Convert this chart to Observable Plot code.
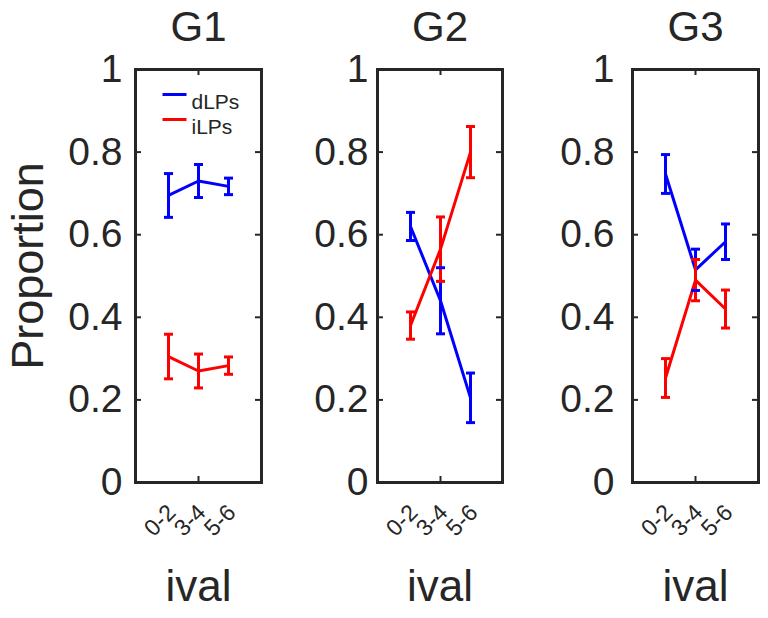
<!DOCTYPE html>
<html><head><meta charset="utf-8">
<script src="https://cdn.jsdelivr.net/npm/d3@7"></script>
<script src="https://cdn.jsdelivr.net/npm/@observablehq/plot@0.6"></script>
<style>
body{margin:0;background:#fff;}
#wrap{position:relative;width:768px;height:618px;overflow:hidden;}
.panel{position:absolute;top:0;}
</style></head><body><div id="wrap"></div>
<script>
const groups = ["G1", "G2", "G3"];
const ivals = ["0-2", "3-4", "5-6"];
const seriesNames = ["dLPs", "iLPs"];
const seriesColors = ["#0000ff", "#ff0000"];
const yTicks = [0, 0.2, 0.4, 0.6, 0.8, 1];
const yTickLabels = ["0", "0.2", "0.4", "0.6", "0.8", "1"];

// mean proportions and error (half-length of error bars)
const g1_dLPs = [0.695, 0.73, 0.717];
const g1_dLPs_err = [0.053, 0.04, 0.02];
const g1_iLPs = [0.305, 0.27, 0.283];
const g1_iLPs_err = [0.054, 0.041, 0.021];

const g2_dLPs = [0.62, 0.44, 0.205];
const g2_dLPs_err = [0.034, 0.08, 0.06];
const g2_iLPs = [0.38, 0.565, 0.8];
const g2_iLPs_err = [0.033, 0.078, 0.062];

const g3_dLPs = [0.747, 0.515, 0.583];
const g3_dLPs_err = [0.047, 0.05, 0.043];
const g3_iLPs = [0.253, 0.49, 0.42];
const g3_iLPs_err = [0.047, 0.05, 0.046];

const groupData = [
  [[g1_dLPs, g1_dLPs_err], [g1_iLPs, g1_iLPs_err]],
  [[g2_dLPs, g2_dLPs_err], [g2_iLPs, g2_iLPs_err]],
  [[g3_dLPs, g3_dLPs_err], [g3_iLPs, g3_iLPs_err]]
];

// layout (pixels)
const H = 618;
const panelLeft = [0, 265, 505];
const panelWidth = [265, 240, 263];
const marginLeft = [135, 112, 127];
const marginRight = [4, 3, 10];
const marginTop = 69, marginBottom = 136;
const yPad = [13, 9, 18];

const ink = "#262626";
const font = "'Liberation Sans', Arial, Helvetica, sans-serif";

// a horizontal-line symbol (error-bar caps and legend swatches)
const hLine = {
  draw(ctx, size) {
    const h = Math.sqrt(size / Math.PI);
    ctx.moveTo(-h, 0);
    ctx.lineTo(h, 0);
  }
};

const wrap = document.getElementById("wrap");

groups.forEach((g, gi) => {
  const rows = [];
  seriesNames.forEach((s, si) => {
    const [vals, errs] = groupData[gi][si];
    ivals.forEach((iv, k) => {
      rows.push({series: s, ival: iv, value: vals[k], lo: vals[k] - errs[k], hi: vals[k] + errs[k]});
    });
  });
  const W = panelWidth[gi];
  const plotW = W - marginLeft[gi] - marginRight[gi];
  const plotH = H - marginTop - marginBottom;

  const marks = [
    // y tick labels
    Plot.axisY({ticks: yTicks, tickFormat: (d) => yTickLabels[yTicks.indexOf(d)], tickSize: 0, tickPadding: yPad[gi], fontSize: 39, label: null, fill: ink}),
    // inner tick marks
    Plot.gridY(yTicks, {stroke: ink, strokeOpacity: 1, strokeWidth: 2, insetRight: plotW - 6}),
    Plot.gridY(yTicks, {stroke: ink, strokeOpacity: 1, strokeWidth: 2, insetLeft: plotW - 6}),
    Plot.gridX(["3-4"], {stroke: ink, strokeOpacity: 1, strokeWidth: 2, insetBottom: plotH - 6}),
    Plot.gridX(["3-4"], {stroke: ink, strokeOpacity: 1, strokeWidth: 2, insetTop: plotH - 6}),
    // x tick labels (rotated 45°)
    Plot.text(ivals, {x: (d) => d, text: (d) => d, frameAnchor: "bottom", rotate: -45, textAnchor: "end", lineAnchor: "top", dx: -3, dy: 20, fontSize: 23, fill: ink}),
    Plot.frame({stroke: ink, strokeWidth: 3}),
    // data
    Plot.line(rows, {x: "ival", y: "value", z: "series", stroke: "series", strokeWidth: 3}),
    Plot.ruleX(rows, {x: "ival", y1: "lo", y2: "hi", stroke: "series", strokeWidth: 3}),
    Plot.dot(rows, {x: "ival", y: "lo", symbol: hLine, r: 4.5, stroke: "series", strokeWidth: 3}),
    Plot.dot(rows, {x: "ival", y: "hi", symbol: hLine, r: 4.5, stroke: "series", strokeWidth: 3}),
    // title
    Plot.text([g], {frameAnchor: "top", textAnchor: "middle", dy: -29, lineAnchor: "bottom", fontSize: 42, fill: ink}),
    // x label
    Plot.text(["ival"], {frameAnchor: "bottom", textAnchor: "middle", dy: 118, lineAnchor: "bottom", fontSize: 44, fill: ink})
  ];
  if (gi === 0) {
    marks.push(Plot.text(["Proportion"], {frameAnchor: "left", textAnchor: "middle", dx: -107, dy: -10, rotate: -90, fontSize: 45, fill: ink}));
    seriesNames.forEach((s, si) => {
      marks.push(Plot.dot([s], {frameAnchor: "top-left", dx: 39, dy: 25 + 25 * si, symbol: hLine, r: 12, stroke: seriesColors[si], strokeWidth: 3}));
      marks.push(Plot.text([s], {frameAnchor: "top-left", dx: 56, dy: 25 + 25 * si, textAnchor: "start", fontSize: 21, fill: ink}));
    });
  }

  const chart = Plot.plot({
    width: W,
    height: H,
    marginLeft: marginLeft[gi],
    marginRight: marginRight[gi],
    marginTop,
    marginBottom,
    style: {fontFamily: font, background: "transparent", overflow: "visible", color: ink},
    x: {type: "point", domain: ivals, padding: 1.07, axis: null},
    y: {domain: [0, 1], axis: null},
    color: {domain: seriesNames, range: seriesColors},
    marks
  });
  chart.classList.add("panel");
  chart.style.left = panelLeft[gi] + "px";
  wrap.appendChild(chart);
});
</script>
</body></html>
